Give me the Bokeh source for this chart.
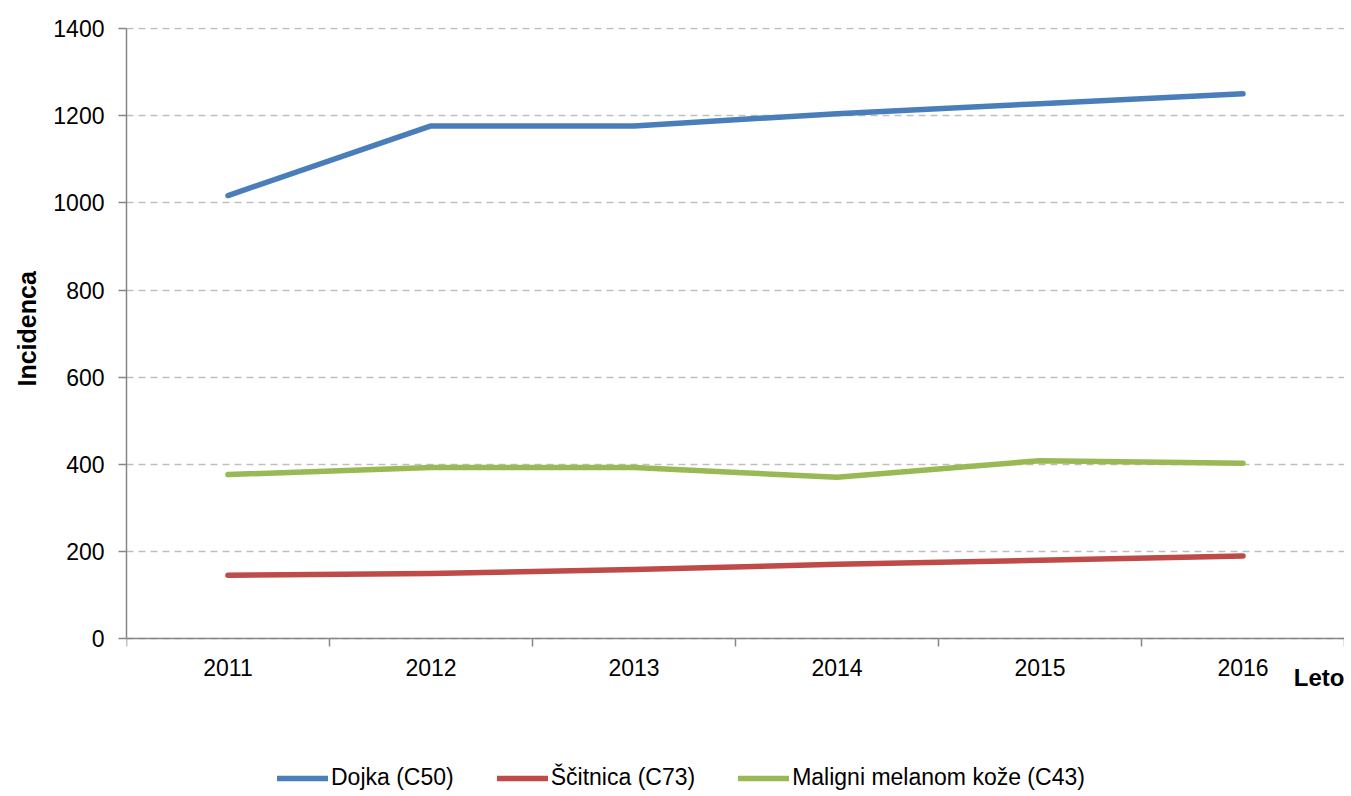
from bokeh.plotting import figure
from bokeh.models import FixedTicker, Legend, LegendItem, Range1d, Label, Title
from bokeh.embed import file_html
from bokeh.resources import INLINE

years = ["2011", "2012", "2013", "2014", "2015", "2016"]
dojka = [1017, 1177, 1177, 1205, 1228, 1251]
scitnica = [145, 149, 158, 170, 179, 189]
melanom = [376, 392, 392, 370, 408, 402]
y_ticks = [0, 200, 400, 600, 800, 1000, 1200, 1400]

series_names = ["Dojka (C50)", "Ščitnica (C73)", "Maligni melanom kože (C43)"]
colors = ["#4A7EBB", "#BE4B48", "#98B954"]

FONT = "Liberation Sans"

xs = [i + 0.5 for i in range(len(years))]

# the frame extends below zero so that the year title and legend sit inside it
p = figure(frame_width=1218, frame_height=764, output_backend="svg", toolbar_location=None,
           x_range=Range1d(0, len(years)), y_range=Range1d(-352, 1403),
           min_border_left=125, min_border_top=27, min_border_right=0,
           min_border_bottom=0)
p.outline_line_color = None
p.background_fill_color = "white"

renderers = []
for vals, c in zip([dojka, scitnica, melanom], colors):
    r = p.line(xs, vals, line_color=c, line_width=5.5, line_cap="round", line_join="round")
    renderers.append(r)

# x axis drawn at y = 0
p.xaxis.fixed_location = 0
p.xaxis.ticker = FixedTicker(ticks=xs, minor_ticks=list(range(len(years) + 1)))
p.xaxis.major_label_overrides = {x: y for x, y in zip(xs, years)}
p.xaxis.major_tick_out = 0
p.xaxis.major_tick_in = 0
p.xaxis.minor_tick_out = 8
p.xaxis.minor_tick_in = 0
p.xaxis.minor_tick_line_color = "#868686"
p.xaxis.minor_tick_line_width = 1.5
p.xaxis.axis_line_color = "#868686"
p.xaxis.axis_line_width = 1.5
p.xaxis.major_label_standoff = 13
p.xaxis.major_label_text_font = FONT
p.xaxis.major_label_text_font_size = "23px"
p.xaxis.major_label_text_color = "#000000"

# y axis
p.yaxis.ticker = FixedTicker(ticks=y_ticks)
p.yaxis.bounds = (y_ticks[0], y_ticks[-1])
p.yaxis.major_tick_out = 8
p.yaxis.major_tick_in = 0
p.yaxis.minor_tick_line_color = None
p.yaxis.major_tick_line_color = "#868686"
p.yaxis.major_tick_line_width = 1.5
p.yaxis.axis_line_color = "#868686"
p.yaxis.axis_line_width = 1.5
p.yaxis.major_label_standoff = 14
p.yaxis.major_label_text_font = FONT
p.yaxis.major_label_text_font_size = "23px"
p.yaxis.major_label_text_color = "#000000"

# y axis title, placed beside the 0-1400 part of the axis
ytitle = Title(text="Incidenca", align="left", vertical_align="bottom",
               offset=405, standoff=20, text_font=FONT, text_font_size="25px",
               text_font_style="bold", text_color="#000000")
p.add_layout(ytitle, "left")

p.xgrid.grid_line_color = None
p.ygrid.grid_line_color = "#BFBFBF"
p.ygrid.grid_line_dash = "7 5"
p.ygrid.grid_line_width = 1.5

leto = Label(x=len(years), y=-89, text="Leto", text_align="right", text_baseline="middle",
             text_font=FONT, text_font_size="24px", text_font_style="bold",
             text_color="#000000", x_offset=0)
p.add_layout(leto)

legend = Legend(items=[LegendItem(label=n, renderers=[r]) for n, r in zip(series_names, renderers)],
                orientation="horizontal", location=(151, 0))
legend.label_text_font = FONT
legend.label_text_font_size = "23px"
legend.label_text_color = "#000000"
legend.glyph_width = 51
legend.label_standoff = 3
legend.spacing = 43
legend.border_line_color = None
legend.background_fill_alpha = 0
legend.margin = 0
legend.padding = 0
p.add_layout(legend)

open("out.html", "w").write(file_html(p, INLINE))
